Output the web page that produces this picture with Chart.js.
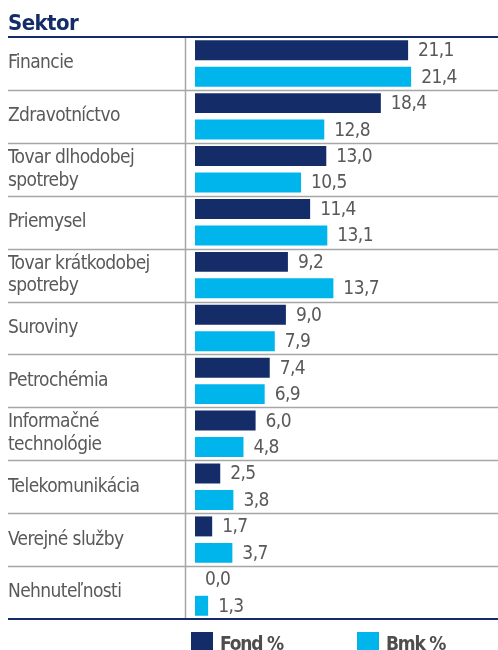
<!DOCTYPE html>
<html>
<head>
<meta charset="utf-8">
<script src="https://cdn.jsdelivr.net/npm/chart.js@4"></script>
<style>
  html, body { margin: 0; padding: 0; background: #fff; overflow: hidden; }
  #wrap { position: relative; width: 498px; height: 650px; }
  .legend-box { position: absolute; top: 632px; width: 22px; height: 22px; }
  .legend-text {
    position: absolute; top: 632px; line-height: 22px;
    font: bold 19px "DejaVu Sans Condensed", "DejaVu Sans", sans-serif;
    letter-spacing: -1.2px;
    color: #4d4d4d; white-space: nowrap;
  }
</style>
</head>
<body>
<div id="wrap">
  <canvas id="sektor-chart" width="498" height="650"></canvas>
  <div class="legend-box" id="fond-box" style="left:191px"></div>
  <div class="legend-text" id="fond-text" style="left:220px"></div>
  <div class="legend-box" id="bmk-box" style="left:357px"></div>
  <div class="legend-text" id="bmk-text" style="left:386px"></div>
</div>
<script>
// data
const sectors = [
  "Financie",
  "Zdravotníctvo",
  ["Tovar dlhodobej", "spotreby"],
  "Priemysel",
  ["Tovar krátkodobej", "spotreby"],
  "Suroviny",
  "Petrochémia",
  ["Informačné", "technológie"],
  "Telekomunikácia",
  "Verejné služby",
  "Nehnuteľnosti"
];
const fondValues = [21.1, 18.4, 13.0, 11.4, 9.2, 9.0, 7.4, 6.0, 2.5, 1.7, 0.0];
const bmkValues = [21.4, 12.8, 10.5, 13.1, 13.7, 7.9, 6.9, 4.8, 3.8, 3.7, 1.3];
const seriesNames = ["Fond %", "Bmk %"];

const NAVY = "#142d69";
const CYAN = "#00b5ec";
const TEXT_GRAY = "#595959";
const LINE_GRAY = "#a6a6a6";
const FONT = "'DejaVu Sans Condensed', 'DejaVu Sans', sans-serif";

// format number with decimal comma
function fmt(v) {
  return v.toFixed(1).replace(".", ",");
}

// tighten all canvas text a little, the original font is narrower
const tightText = {
  id: "tightText",
  beforeDraw(chart) {
    chart.ctx.letterSpacing = "-0.6px";
  },
  afterDraw(chart) {
    chart.ctx.letterSpacing = "0px";
  }
};

// draws the table lines (header rule, row separators, column divider, bottom rule) and value labels
const tableLines = {
  id: "tableLines",
  beforeDatasetsDraw(chart) {
    const { ctx, chartArea, scales } = chart;
    const y = scales.y;
    const x0 = chart.options.layout.padding.left;
    const x1 = chart.width;
    ctx.save();
    ctx.strokeStyle = LINE_GRAY;
    ctx.lineWidth = 1.5;
    for (let i = 0; i < sectors.length - 1; i++) {
      const yy = Math.round((y.getPixelForValue(i) + y.getPixelForValue(i + 1)) / 2) + 0.5;
      ctx.beginPath();
      ctx.moveTo(x0, yy);
      ctx.lineTo(x1, yy);
      ctx.stroke();
    }
    // column divider, a bit left of the bar origin
    const divX = Math.round(scales.x.getPixelForValue(0)) - 10 + 0.5;
    ctx.beginPath();
    ctx.moveTo(divX, chartArea.top);
    ctx.lineTo(divX, chartArea.bottom);
    ctx.stroke();
    // navy rules top and bottom
    ctx.strokeStyle = NAVY;
    ctx.lineWidth = 2;
    [chartArea.top, chartArea.bottom].forEach((yy) => {
      ctx.beginPath();
      ctx.moveTo(x0, yy);
      ctx.lineTo(x1, yy);
      ctx.stroke();
    });
    ctx.restore();
  },
  afterDatasetsDraw(chart) {
    const { ctx } = chart;
    ctx.save();
    ctx.font = "19px " + FONT;
    ctx.fillStyle = TEXT_GRAY;
    ctx.textAlign = "left";
    ctx.textBaseline = "middle";
    chart.data.datasets.forEach((ds, di) => {
      chart.getDatasetMeta(di).data.forEach((bar, i) => {
        ctx.fillText(fmt(ds.data[i]), bar.x + 10, bar.y + 1);
      });
    });
    ctx.restore();
  }
};

document.addEventListener("DOMContentLoaded", () => {
  // html legend
  document.getElementById("fond-box").style.background = NAVY;
  document.getElementById("bmk-box").style.background = CYAN;
  document.getElementById("fond-text").textContent = seriesNames[0];
  document.getElementById("bmk-text").textContent = seriesNames[1];

  const ctx = document.getElementById("sektor-chart").getContext("2d");
  window.myChart = new Chart(ctx, {
    type: "bar",
    data: {
      labels: sectors,
      datasets: [
        { label: seriesNames[0], data: fondValues, backgroundColor: NAVY },
        { label: seriesNames[1], data: bmkValues, backgroundColor: CYAN }
      ]
    },
    options: {
      indexAxis: "y",
      responsive: false,
      animation: false,
      categoryPercentage: 1.0,
      barPercentage: 0.755,
      layout: { padding: { left: 8, right: 0, top: 0, bottom: 31 } },
      plugins: {
        legend: { display: false },
        tooltip: { enabled: false },
        title: {
          display: true,
          text: "Sektor",
          align: "start",
          color: NAVY,
          font: { family: FONT, size: 22, weight: "bold", lineHeight: 1 },
          padding: { top: 13, bottom: 2 }
        }
      },
      scales: {
        x: { display: false, min: 0, max: 30 },
        y: {
          grid: { display: false },
          border: { display: false },
          ticks: {
            crossAlign: "far",
            color: TEXT_GRAY,
            font: { family: FONT, size: 19, lineHeight: 1.2 }
          },
          afterFit(scale) {
            scale.width = 187;
          }
        }
      }
    },
    plugins: [tightText, tableLines]
  });
});
</script>
</body>
</html>
